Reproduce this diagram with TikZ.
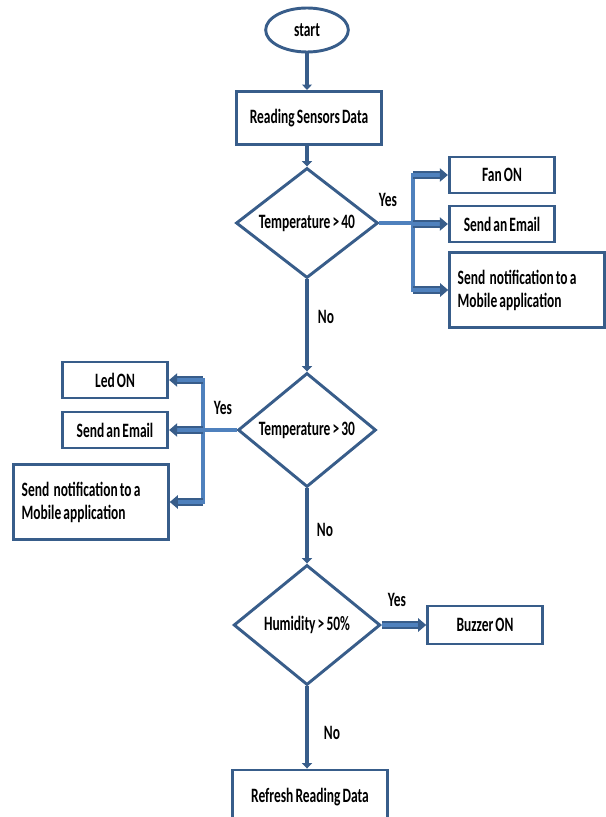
\documentclass[tikz,border=0pt]{standalone}
\usepackage{fontspec}
\setmainfont{Carlito}[FakeStretch=0.66, WordSpace=0.7]
\usetikzlibrary{shapes.geometric, arrows.meta}
\definecolor{darkblue}{RGB}{56,93,138}
\definecolor{lightblue}{RGB}{79,129,189}

\begin{document}
\begin{tikzpicture}[
        x=0.75pt, y=-0.75pt,
        every node/.style = {font=\fontsize{15.3pt}{17.25pt}\selectfont\bfseries},
        T/.style = {draw=darkblue, line width=2.2pt, ellipse, minimum width=62pt, minimum height=33pt, inner sep=0pt},
        P/.style = {draw=darkblue, line width=2.2pt, minimum width=79pt, minimum height=27pt, inner sep=2pt},
        N/.style = {P, align=flush left, text width=104pt, inner xsep=6pt, minimum height=56pt},
        D/.style = {draw=darkblue, line width=2.2pt, diamond, aspect=1.3, inner sep=0pt},
        arrow/.style = {draw=darkblue, line width=3.5pt, -{Triangle[length=4pt, width=7.5pt]}},
        bus/.style = {draw=lightblue, line width=3.5pt},
        yesarrow/.style = {draw=darkblue, line width=0.9pt, double=lightblue, double distance=3.5pt, -{Triangle[length=6pt, width=10pt]}}
    ]
        \useasboundingbox (0,0) rectangle (606,817);
        % main column
        \node[T] (start) at (307,30) {start};
        \node[P, minimum width=109pt, minimum height=40pt] (read) at (309,118) {Reading Sensors Data};
        \node[D, minimum width=106.5pt, minimum height=82.5pt] (t40) at (307,223) {Temperature > 40};
        \node[D, minimum width=103.5pt, minimum height=85.5pt] (t30) at (307,430) {Temperature > 30};
        \node[D, minimum width=110pt, minimum height=90pt] (hum) at (307,625) {Humidity > 50\%};
        \node[P, minimum width=116pt, minimum height=40.5pt] (refresh) at (310,797) {Refresh Reading Data};
        % yes boxes
        \node[P] (fan) at (502,175) {Fan ON};
        \node[P] (mail1) at (502,224) {Send an Email};
        \node[N] (app1) at (527,290) {Send\ \ notification to a\\Mobile application};
        \node[P] (led) at (115,380) {Led ON};
        \node[P] (mail2) at (115,430) {Send an Email};
        \node[N] (app2) at (91,502) {Send\ \ notification to a\\Mobile application};
        \node[P, minimum width=86pt, minimum height=28.5pt] (buzz) at (485,625) {Buzzer ON};
        % labels
        \node (yes1) at (388,200) {Yes};
        \node (yes2) at (223,408) {Yes};
        \node (yes3) at (397,600) {Yes};
        \node (no1) at (326,317) {No};
        \node (no2) at (325,530) {No};
        \node (no3) at (332,733) {No};
        % connectors
        \draw[arrow] (start) -- (start |- read.north);
        \draw[arrow] (start |- read.south) -- (t40);
        \draw[arrow] (t40) -- (t30);
        \draw[arrow] (t30) -- (hum);
        \draw[arrow] (hum) -- (hum |- refresh.north);
        \coordinate (j1) at (413,223);
        \coordinate (j2) at (203,430);
        \draw[bus] (t40.east) -- (j1);
        \draw[bus, line cap=rect] (j1 |- fan.west) -- (j1 |- app1.west);
        \draw[yesarrow] (j1 |- fan.west) -- (fan.west);
        \draw[yesarrow] (j1 |- mail1.west) -- (mail1.west);
        \draw[yesarrow] (j1 |- app1.west) -- (app1.west);
        \draw[bus] (t30.west) -- (j2);
        \draw[bus, line cap=rect] (j2 |- led.east) -- (j2 |- app2.east);
        \draw[yesarrow] (j2 |- led.east) -- (led.east);
        \draw[yesarrow] (j2 |- mail2.east) -- (mail2.east);
        \draw[yesarrow] (j2 |- app2.east) -- (app2.east);
        \draw[yesarrow] (hum.east) -- (buzz.west);
    \end{tikzpicture}
\end{document}
